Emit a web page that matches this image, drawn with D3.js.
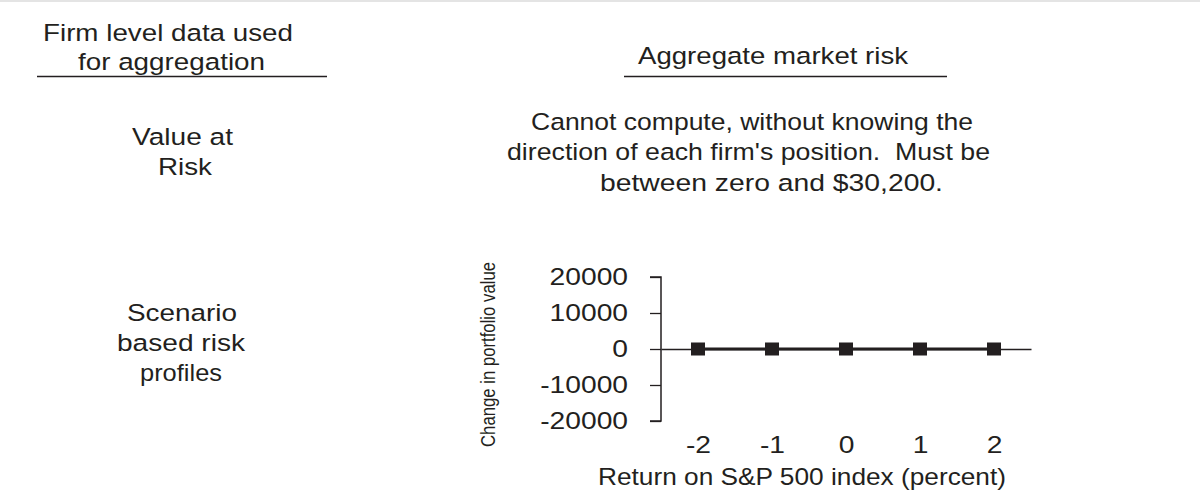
<!DOCTYPE html>
<html>
<head>
<meta charset="utf-8">
<script src="https://cdn.jsdelivr.net/npm/d3@7"></script>
<style>
  html, body { margin: 0; padding: 0; background: #fff; }
  svg { display: block; }
  text { font-family: "Liberation Sans", Arial, Helvetica, sans-serif; fill: #231f20; white-space: pre; }
</style>
</head>
<body>
<svg id="chart" width="1200" height="495"></svg>
<script>
// ---- data ----
const returns = [-2, -1, 0, 1, 2];                 // S&P 500 return scenarios (percent)
const portfolioChange = [0, 0, 0, 0, 0];           // aggregate change in portfolio value
const yTickValues = [-20000, -10000, 0, 10000, 20000];
const xTickValues = [-2, -1, 0, 1, 2];
const xTitle = "Return on S&P 500 index (percent)";
const yTitle = "Change in portfolio value";
const leftHeader = ["Firm level data used", "for aggregation"];
const rightHeader = ["Aggregate market risk"];
const rowLabelVaR = ["Value at", "Risk"];
const rowLabelScenario = ["Scenario", "based risk", "profiles"];
const varText = ["Cannot compute, without knowing the",
                 "direction of each firm's position.  Must be",
                 "between zero and $30,200."];

const ink = "#231f20";
const svg = d3.select("#chart");

// faint rule at the top edge
svg.append("line").attr("x1", 0).attr("x2", 1200).attr("y1", 1).attr("y2", 1)
  .attr("stroke", "#e4e4e4").attr("stroke-width", 2);

// text helper: stretched to match measured extent
function txt(str, x1, x2, base, fs) {
  svg.append("text")
    .attr("x", x1).attr("y", base)
    .attr("font-size", fs)
    .attr("textLength", x2 - x1)
    .attr("lengthAdjust", "spacingAndGlyphs")
    .text(str);
}
function rule(x1, x2, yy) {
  svg.append("line").attr("x1", x1).attr("x2", x2).attr("y1", yy).attr("y2", yy)
    .attr("stroke", ink).attr("stroke-width", 1.6);
}
const fsMain = 24.5;

// headers
txt(leftHeader[0], 43, 293, 40.5, fsMain);
txt(leftHeader[1], 78, 265, 70, fsMain);
rule(37, 327, 76.5);
txt(rightHeader[0], 638, 908, 64, fsMain);
rule(624, 947, 76.5);

// row labels
txt(rowLabelVaR[0], 132, 233, 145, fsMain);
txt(rowLabelVaR[1], 158, 212, 175, fsMain);
txt(rowLabelScenario[0], 127, 237, 321, fsMain);
txt(rowLabelScenario[1], 117, 245, 351, fsMain);
txt(rowLabelScenario[2], 140, 222, 381, fsMain);

// VaR explanation
txt(varText[0], 531, 973, 130, fsMain);
txt(varText[1], 507, 990, 160, fsMain);
txt(varText[2], 600, 943, 190.5, fsMain);

// ---- chart ----
const x = d3.scaleLinear().domain([-2.5, 2.5]).range([661, 1031]);
const y = d3.scaleLinear().domain([-20000, 20000]).range([421, 277]);
const stretch = 1.2;
const fmt = d => String(d);

// y axis
const gy = svg.append("g").attr("transform", `translate(${x.range()[0]},0)`)
  .call(d3.axisLeft(y).tickValues(yTickValues).tickSize(11).tickPadding(22).tickFormat(fmt));
gy.select(".domain").attr("stroke", ink).attr("stroke-width", 1.5).attr("d", `M-11,${y(20000)}H0V${y(-20000)}H-11`);
gy.selectAll(".tick line").attr("stroke", ink).attr("stroke-width", 1.3);
gy.selectAll(".tick text").attr("font-size", 23.5).attr("font-family", null).attr("fill", ink)
  .each(function () {
    const w = this.getComputedTextLength();
    d3.select(this).attr("textLength", w * stretch).attr("lengthAdjust", "spacingAndGlyphs");
  });

// x axis (through zero, labels at bottom)
const gx = svg.append("g").attr("transform", `translate(0,${y(0)})`)
  .call(d3.axisBottom(x).tickValues(xTickValues).tickSizeInner(0).tickSizeOuter(0).tickPadding(87).tickFormat(fmt));
gx.select(".domain").attr("stroke", ink).attr("stroke-width", 1.6);
gx.selectAll(".tick line").remove();
gx.selectAll(".tick text").attr("font-size", 23.5).attr("font-family", null).attr("fill", ink)
  .each(function () {
    const w = this.getComputedTextLength();
    d3.select(this).attr("textLength", w * stretch).attr("lengthAdjust", "spacingAndGlyphs");
  });

// series line
const pts = returns.map((r, i) => [r, portfolioChange[i]]);
svg.append("path").datum(pts)
  .attr("fill", "none").attr("stroke", ink).attr("stroke-width", 3.2)
  .attr("d", d3.line().x(d => x(d[0])).y(d => y(d[1])));

// markers
svg.append("g").selectAll("rect").data(pts).join("rect")
  .attr("x", d => x(d[0]) - 7).attr("y", d => y(d[1]) - 6.5)
  .attr("width", 14).attr("height", 13).attr("fill", ink);

// axis titles
svg.append("text").attr("x", 598).attr("y", 485).attr("font-size", fsMain)
  .attr("textLength", 1006 - 598).attr("lengthAdjust", "spacingAndGlyphs").text(xTitle);
svg.append("text").attr("transform", "translate(495,447) rotate(-90)")
  .attr("x", 0).attr("y", 0).attr("font-size", 20.5)
  .attr("textLength", 447 - 262).attr("lengthAdjust", "spacingAndGlyphs").text(yTitle);
</script>
</body>
</html>
